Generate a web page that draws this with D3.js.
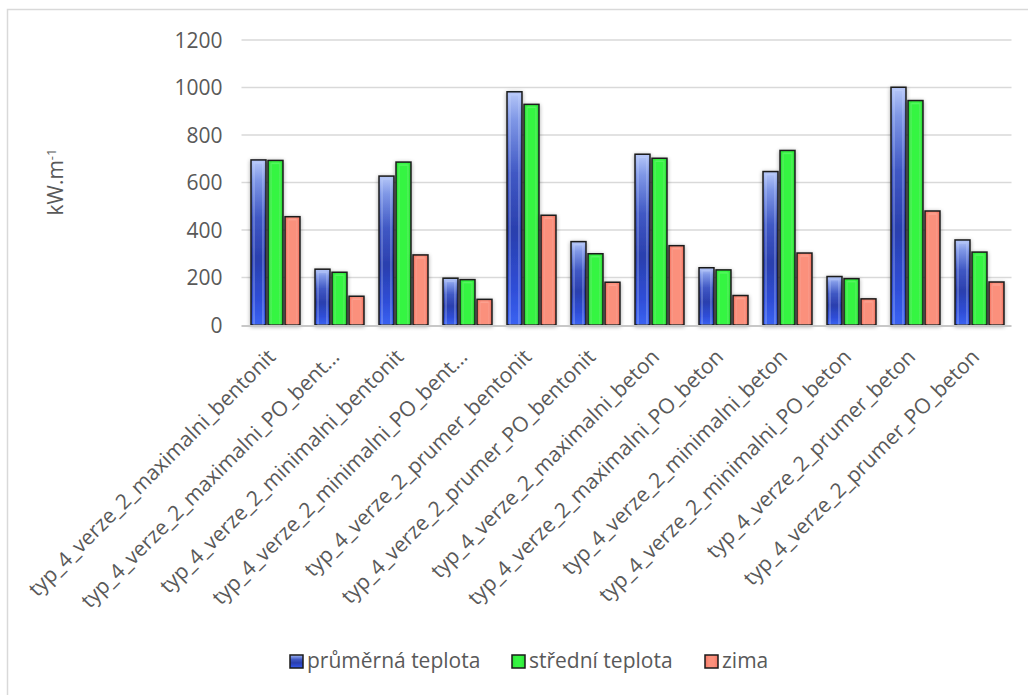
<!DOCTYPE html>
<html>
<head>
<meta charset="utf-8">
<script src="https://cdn.jsdelivr.net/npm/d3@7"></script>
<style>
  html, body { margin: 0; padding: 0; background: #fff; }
  svg { display: block; }
  text { font-family: "Open Sans", "Noto Sans", sans-serif; fill: #595959; }
</style>
</head>
<body>
<svg id="chart" width="1028" height="695"></svg>
<script>
const categories = [
  "typ_4_verze_2_maximalni_bentonit",
  "typ_4_verze_2_maximalni_PO_bent...",
  "typ_4_verze_2_minimalni_bentonit",
  "typ_4_verze_2_minimalni_PO_bent...",
  "typ_4_verze_2_prumer_bentonit",
  "typ_4_verze_2_prumer_PO_bentonit",
  "typ_4_verze_2_maximalni_beton",
  "typ_4_verze_2_maximalni_PO_beton",
  "typ_4_verze_2_minimalni_beton",
  "typ_4_verze_2_minimalni_PO_beton",
  "typ_4_verze_2_prumer_beton",
  "typ_4_verze_2_prumer_PO_beton"
];
const seriesNames = ["průměrná teplota", "střední teplota", "zima"];
const prumernaTeplota = [695, 235, 627, 197, 982, 351, 719, 241, 646, 204, 1001, 358];
const stredniTeplota  = [693, 222, 686, 191, 929, 300, 702, 232, 735, 195, 945, 307];
const zima            = [456, 121, 295, 108, 462, 180, 334, 124, 303, 110, 480, 181];
const yTicks = [0, 200, 400, 600, 800, 1000, 1200];
const yTitle = "kW.m";
const yTitleSup = "-1";

const seriesValues = [prumernaTeplota, stredniTeplota, zima];

const svg = d3.select("#chart");
const defs = svg.append("defs");

// gradients
const gBlue = defs.append("linearGradient").attr("id", "gBlue").attr("x1", 0).attr("y1", 0).attr("x2", 0).attr("y2", 1);
[[0, "#b7c8f8"], [0.12, "#7f97e6"], [0.35, "#4058c4"], [0.6, "#2a3fae"], [0.85, "#2f4ed8"], [1, "#3a62f2"]]
  .forEach(([o, c]) => gBlue.append("stop").attr("offset", o).attr("stop-color", c));
const gGreen = defs.append("linearGradient").attr("id", "gGreen").attr("x1", 0).attr("y1", 0).attr("x2", 1).attr("y2", 0);
[[0, "#2ae035"], [0.3, "#36f542"], [0.7, "#36f542"], [1, "#2ae035"]]
  .forEach(([o, c]) => gGreen.append("stop").attr("offset", o).attr("stop-color", c));
const gRed = defs.append("linearGradient").attr("id", "gRed").attr("x1", 0).attr("y1", 0).attr("x2", 1).attr("y2", 0);
[[0, "#f47462"], [0.3, "#fb907c"], [0.7, "#fb907c"], [1, "#f47462"]]
  .forEach(([o, c]) => gRed.append("stop").attr("offset", o).attr("stop-color", c));
const fills = ["url(#gBlue)", "url(#gGreen)", "url(#gRed)"];

const shadow = defs.append("filter").attr("id", "shadow").attr("x", "-50%").attr("y", "-20%").attr("width", "200%").attr("height", "140%");
shadow.append("feGaussianBlur").attr("in", "SourceAlpha").attr("stdDeviation", 2).attr("result", "blur");
shadow.append("feOffset").attr("in", "blur").attr("dx", 0).attr("dy", 1).attr("result", "off");
shadow.append("feComponentTransfer").attr("in", "off").attr("result", "sh")
  .append("feFuncA").attr("type", "linear").attr("slope", 0.35);
const merge = shadow.append("feMerge");
merge.append("feMergeNode").attr("in", "sh");
merge.append("feMergeNode").attr("in", "SourceGraphic");

// chart border
svg.append("rect").attr("x", 7.5).attr("y", 9.5).attr("width", 1030).attr("height", 700)
  .attr("fill", "#fff").attr("stroke", "#d9d9d9").attr("stroke-width", 1.5);

const plot = { left: 243.5, right: 1011.5, top: 40, bottom: 325 };

const x = d3.scaleBand().domain(categories).range([plot.left, plot.right]).paddingInner(0.235).paddingOuter(0.1175);
const xs = d3.scaleBand().domain(d3.range(3)).range([0, x.bandwidth()]).paddingInner(0.12);
const y = d3.scaleLinear().domain([0, 1200]).range([plot.bottom, plot.top]);

// gridlines
svg.append("g").selectAll("line").data(yTicks.filter(d => d > 0)).join("line")
  .attr("x1", plot.left - 2).attr("x2", plot.right)
  .attr("y1", d => y(d)).attr("y2", d => y(d))
  .attr("stroke", "#d9d9d9").attr("stroke-width", 1.5);

// y axis labels
const yAxis = d3.axisLeft(y).tickValues(yTicks).tickFormat(d3.format("d")).tickSize(0).tickPadding(0);
const yg = svg.append("g").attr("transform", `translate(${plot.left - 21},0)`).call(yAxis);
yg.select(".domain").remove();
yg.selectAll("text").style("font-size", "21px").style("fill", "#595959").attr("dy", "0.35em")
  .style("font-family", "'Open Sans', sans-serif");

// y title
const yt = svg.append("text").attr("transform", `translate(63,182) rotate(-90)`)
  .attr("text-anchor", "middle").style("font-size", "21px");
yt.append("tspan").text(yTitle);
yt.append("tspan").attr("dy", "-0.55em").style("font-size", "13px").text(yTitleSup);

// bars
const groups = svg.append("g").selectAll("g").data(categories).join("g")
  .attr("transform", d => `translate(${x(d)},0)`);
groups.each(function(cat, ci) {
  const g = d3.select(this);
  seriesValues.forEach((vals, si) => {
    const v = vals[ci];
    g.append("rect")
      .attr("x", xs(si)).attr("width", xs.bandwidth())
      .attr("y", y(v)).attr("height", y(0) - y(v))
      .attr("fill", fills[si])
      .attr("stroke", "#1a1a1a").attr("stroke-width", 1.5)
      .attr("filter", "url(#shadow)");
    g.append("rect")
      .attr("x", xs(si) + 3).attr("width", Math.max(0, xs.bandwidth() - 6))
      .attr("y", y(v) + 3).attr("height", Math.max(0, y(0) - y(v) - 3))
      .attr("fill", "none")
      .attr("stroke", si === 0 ? "rgba(200,215,255,0.35)" : "rgba(255,255,255,0.15)")
      .attr("stroke-width", 1.5);
  });
});

// x axis line
svg.append("line").attr("x1", plot.left - 2).attr("x2", plot.right)
  .attr("y1", y(0) + 1).attr("y2", y(0) + 1).attr("stroke", "#c8c8c8").attr("stroke-width", 2);

// x labels
const xg = svg.append("g");
xg.selectAll("text").data(categories).join("text")
  .attr("transform", d => `translate(${x(d) + x.bandwidth() / 2 - 4},${plot.bottom + 28}) rotate(-45)`)
  .attr("text-anchor", "end").attr("dy", "0.35em")
  .style("font-size", "21px")
  .text(d => d);

// legend
const legendItems = [
  { name: seriesNames[0], fill: fills[0], mx: 290, tx: 307 },
  { name: seriesNames[1], fill: fills[1], mx: 512, tx: 529 },
  { name: seriesNames[2], fill: fills[2], mx: 705, tx: 722 }
];
const lg = svg.append("g");
legendItems.forEach(it => {
  lg.append("rect").attr("x", it.mx).attr("y", 655).attr("width", 13).attr("height", 13)
    .attr("fill", it.fill).attr("stroke", "#1a1a1a").attr("stroke-width", 1.5);
  lg.append("text").attr("x", it.tx).attr("y", 661).attr("dy", "0.35em")
    .style("font-size", "21px").text(it.name);
});
</script>
</body>
</html>
